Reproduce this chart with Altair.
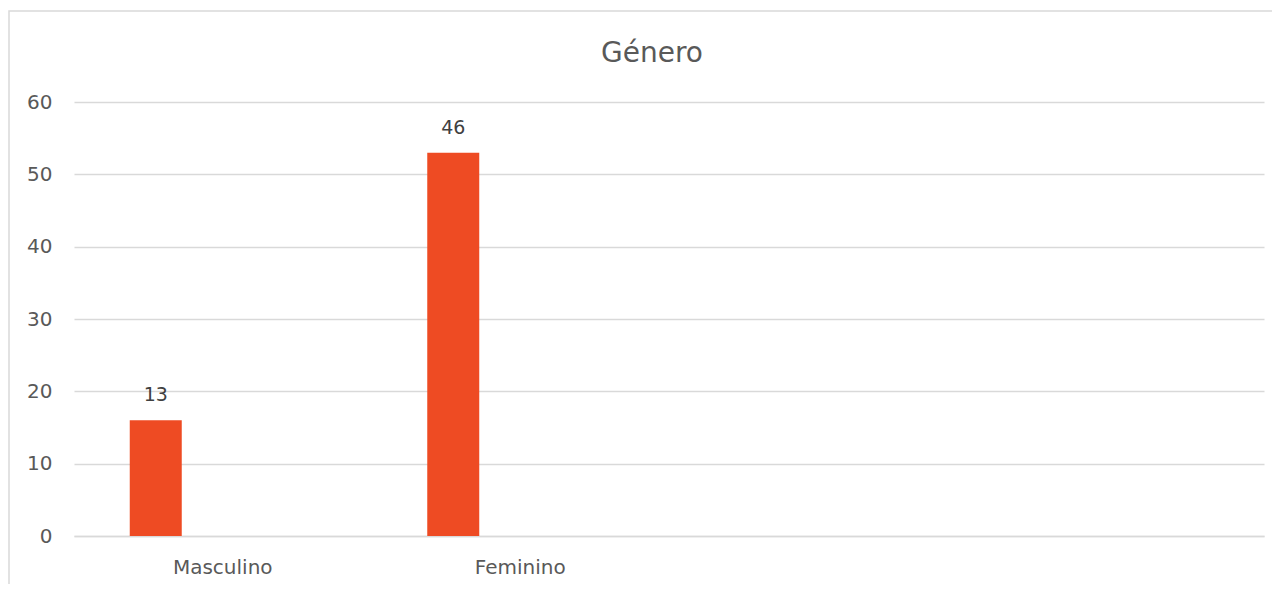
import altair as alt
import pandas as pd

categories = ["Masculino", "Feminino"]
values = [16, 53]
labels = ["13", "46"]
slots = ["Masculino", "Feminino", "_3", "_4"]
title_text = "Género"

df = pd.DataFrame({"cat": categories, "val": values, "lab": labels})
one_df = pd.DataFrame({"t": [title_text]})

FONT = "DejaVu Sans"

x_enc = alt.X(
    "cat:N",
    scale=alt.Scale(domain=slots, paddingInner=0, paddingOuter=0),
    sort=slots,
    axis=alt.Axis(
        title=None,
        labelAngle=0,
        labelExpr="indexof(datum.value, '_') == 0 ? '' : datum.value",
        labelFont=FONT,
        labelFontSize=20,
        labelColor="#595959",
        labelPadding=21,
        ticks=False,
        domainColor="#d9d9d9",
        domainWidth=1.5,
        grid=False,
    ),
)
y_scale = alt.Scale(domain=[0, 60], nice=False)

bars = alt.Chart(df).mark_bar(width=52, xOffset=-67, color="#EE4B23").encode(
    x=x_enc,
    y=alt.Y(
        "val:Q",
        scale=y_scale,
        axis=alt.Axis(
            title=None,
            values=[0, 10, 20, 30, 40, 50, 60],
            labelFont=FONT,
            labelFontSize=20,
            labelColor="#595959",
            labelPadding=22,
            ticks=False,
            domain=False,
            gridColor="#d9d9d9",
            gridWidth=1.5,
        ),
    ),
)

text = alt.Chart(df).mark_text(
    xOffset=-67, dy=-25, font=FONT, fontSize=19, color="#404040"
).encode(
    x=alt.X("cat:N", scale=alt.Scale(domain=slots), sort=slots),
    y=alt.Y("val:Q", scale=y_scale),
    text="lab:N",
)

title = alt.Chart(one_df).mark_text(
    font=FONT, fontSize=28, color="#595959", baseline="middle", align="center"
).encode(x=alt.value(578), y=alt.value(-48), text="t:N")

frame = alt.Chart(one_df).mark_rect(
    fill="transparent", stroke="#d9d9d9", strokeWidth=1.5
).encode(
    x=alt.value(-65), x2=alt.value(1300), y=alt.value(-91), y2=alt.value(700)
)

chart = (
    alt.layer(frame, bars, text, title)
    .properties(
        width=1190,
        height=434,
        autosize=alt.AutoSizeParams(type="none"),
        padding={"left": 66, "top": 94, "right": 8, "bottom": 48},
    )
    .configure_view(stroke=None)
)

chart.save("out.html", embed_options={"renderer": "svg", "actions": False})
